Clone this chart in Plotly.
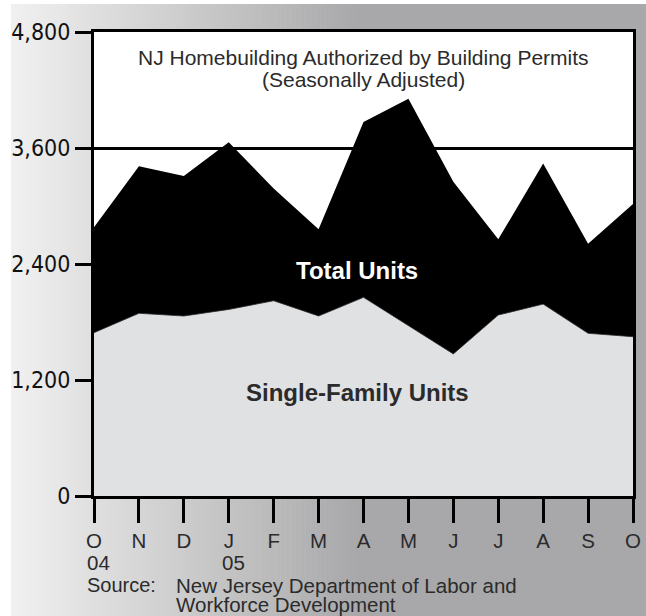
import plotly.graph_objects as go

# ---- data ----
month_pos = list(range(13))
month_labels = ["O", "N", "D", "J", "F", "M", "A", "M", "J", "J", "A", "S", "O"]
year_labels = {0: "04", 3: "05"}
total_units = [2780, 3410, 3310, 3660, 3180, 2760, 3870, 4110, 3250, 2655, 3440, 2610, 3020]
single_family = [1690, 1890, 1862, 1930, 2020, 1862, 2055, 1760, 1470, 1872, 1985, 1683, 1648]
y_ticks = [0, 1200, 2400, 3600, 4800]

W, H = 646, 616
L, R, T, B = 94, 13, 32, 120
PW, PH = W - L - R, H - T - B

FONT = "Liberation Sans, Arial, Helvetica"
TXT = "#2b2b2b"


def px_x(px):
    return (px - L) / PW


def px_y(py):
    return (H - B - py) / PH


fig = go.Figure()
fig.add_trace(go.Scatter(x=month_pos, y=total_units, mode="lines", fill="tozeroy",
                         fillcolor="#000000", line=dict(color="#000000", width=0),
                         hoverinfo="skip", showlegend=False))
fig.add_trace(go.Scatter(x=month_pos, y=single_family, mode="lines", fill="tozeroy",
                         fillcolor="#e0e1e3", line=dict(color="#2a2a2a", width=0.8),
                         hoverinfo="skip", showlegend=False))

shapes = []
# gradient background panel
x0, x1 = 11, 360
c0, c1 = (240, 240, 240), (168, 168, 170)
n = 70
for i in range(n):
    a = x0 + (x1 - x0) * i / n
    b = x0 + (x1 - x0) * (i + 1) / n + 0.6
    t = i / (n - 1)
    col = tuple(round(c0[k] + (c1[k] - c0[k]) * t) for k in range(3))
    shapes.append(dict(type="rect", xref="paper", yref="paper", layer="below",
                       x0=px_x(a), x1=px_x(b), y0=px_y(H + 2), y1=px_y(4),
                       fillcolor="rgb(%d,%d,%d)" % col, line=dict(width=0)))
shapes.append(dict(type="rect", xref="paper", yref="paper", layer="below",
                   x0=px_x(x1), x1=px_x(W + 2), y0=px_y(H + 2), y1=px_y(4),
                   fillcolor="rgb(%d,%d,%d)" % c1, line=dict(width=0)))
# white plot area
shapes.append(dict(type="rect", xref="paper", yref="paper", layer="below",
                   x0=0, x1=1, y0=0, y1=1, fillcolor="white", line=dict(width=0)))


def note(text, x, y, size, color=TXT, xanchor="center", xref="paper", xshift=0):
    return dict(text=text, x=x, y=y, xref=xref, yref="paper", xanchor=xanchor,
                yanchor="middle", xshift=xshift, showarrow=False,
                font=dict(family=FONT, size=size, color=color))


annotations = [
    note("NJ Homebuilding Authorized by Building Permits", px_x(363), px_y(58), 21),
    note("(Seasonally Adjusted)", px_x(363), px_y(79), 21),
    note("<b>Total Units</b>", px_x(357), px_y(270), 24, color="white"),
    note("<b>Single-Family Units</b>", px_x(357), px_y(392), 24),
    note("Source:", px_x(85), px_y(585), 20, xanchor="left"),
    note("New Jersey Department of Labor and", px_x(174), px_y(585), 20.5, xanchor="left"),
    note("Workforce Development", px_x(174), px_y(604), 20.5, xanchor="left"),
]
for pos, lab in year_labels.items():
    annotations.append(note(lab, pos, px_y(562), 20.5, xanchor="left", xref="x", xshift=-9))

fig.update_layout(
    width=W, height=H,
    margin=dict(l=L, r=R, t=T, b=B, pad=0, autoexpand=False),
    paper_bgcolor="white", plot_bgcolor="white",
    shapes=shapes, annotations=annotations,
    xaxis=dict(range=[0, 12], tickmode="array", tickvals=month_pos, ticktext=month_labels,
               ticks="outside", ticklen=24, tickwidth=3, tickcolor="black",
               showline=True, linewidth=3, linecolor="black", mirror=True,
               showgrid=False, zeroline=False, automargin=False,
               tickfont=dict(family=FONT, size=20.5, color=TXT)),
    yaxis=dict(range=[0, 4800], tickmode="array", tickvals=y_ticks,
               ticktext=["{:,}".format(v) for v in y_ticks],
               ticks="outside", ticklen=16, tickwidth=3, tickcolor="black",
               showline=True, linewidth=3, linecolor="black", mirror=True,
               showgrid=True, gridcolor="black", gridwidth=3, zeroline=False, automargin=False,
               tickfont=dict(family="Liberation Sans Narrow, Arial Narrow, DejaVu Sans Condensed, Liberation Sans",
                             size=23, color="#111111")),
)

fig.write_html("out.html", config={"displayModeBar": False},
               post_script="document.body.style.margin='0';document.body.style.overflow='hidden';")
